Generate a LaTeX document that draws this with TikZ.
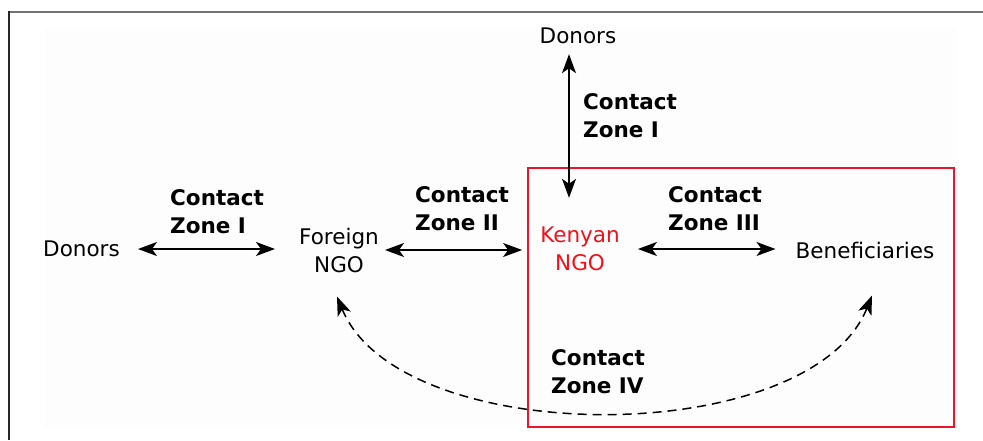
\documentclass[tikz,border=0pt]{standalone}
\usepackage{fontspec}
\setmainfont{DejaVu Sans}
\usetikzlibrary{arrows.meta}
\definecolor{boxred}{RGB}{235,20,45}
\definecolor{txtred}{RGB}{245,15,25}
\definecolor{bgtint}{RGB}{253,253,253}
\begin{document}
\begin{tikzpicture}[x=1pt,y=-1pt,
  lbl/.style={font=\fontsize{21.5}{28}\selectfont, inner sep=0pt, align=center},
  zone/.style={font=\fontsize{21.5}{28}\selectfont\bfseries, inner sep=0pt, align=left, anchor=west},
  link/.style={line width=1.5pt, {Stealth[length=19pt,width=14pt,inset=5pt]}-{Stealth[length=19pt,width=14pt,inset=5pt]}},
  dlink/.style={line width=1.5pt, dash pattern=on 9pt off 6pt, {Stealth[length=19pt,width=14pt,inset=5pt]}-{Stealth[length=19pt,width=14pt,inset=5pt]}},
]
\useasboundingbox (0,0) rectangle (983,440);
\fill[white] (0,0) rectangle (983,440);
\fill[bgtint] (45,27) rectangle (957,428);
\draw[black!55, line width=2pt] (8,11.5) -- (983,11.5);
\draw[black!85, line width=2pt] (8.5,10.5) -- (8.5,440);
\draw[boxred, line width=2.8pt] (528,168) rectangle (954,427);

\node[lbl] (dt) at (578,36) {Donors};
\node[lbl] (dl) at (81.5,249) {Donors};
\node[lbl] (fn) at (339,250) {Foreign\\NGO};
\node[lbl, text=txtred] (kn) at (580,249) {Kenyan\\NGO};
\node[lbl] (bn) at (865,250) {Beneficiaries};

\node[zone] (z1t) at (583,116) {Contact\\Zone I};
\node[zone] (z1l) at (170,212) {Contact\\Zone I};
\node[zone] (z2) at (415,209) {Contact\\Zone II};
\node[zone] (z3) at (668,209) {Contact\\Zone III};
\node[zone] (z4) at (551,372) {Contact\\Zone IV};

\draw[link, shorten <=18pt, shorten >=24pt] (dl.east) -- (fn.west |- dl.east);
\draw[link, shorten <=6pt, shorten >=18pt] (fn.east) -- (kn.west |- fn.east);
\draw[link, shorten <=18pt, shorten >=20pt] (kn.east) -- (bn.west |- kn.east);
\draw[link, shorten <=10pt, shorten >=29pt] ([xshift=-9pt]dt.south) -- ([xshift=-11pt]kn.north);
\draw[dlink] ([xshift=-2pt,yshift=-24pt]fn.south) .. controls (400,450) and (810,450) .. ([xshift=7pt,yshift=-37pt]bn.south);
\end{tikzpicture}
\end{document}
